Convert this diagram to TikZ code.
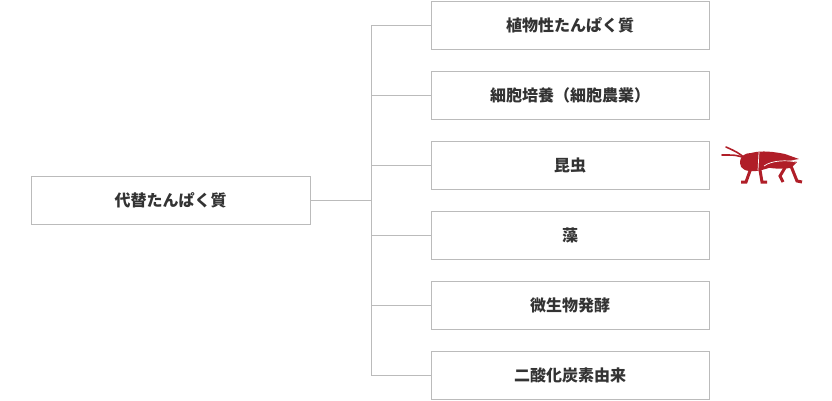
\documentclass[tikz,border=0pt]{standalone}
\usepackage{fontspec}
\newfontfamily\cjk{Noto Sans CJK JP}
\definecolor{tx}{HTML}{333333}
\definecolor{bd}{HTML}{BBBBBB}
\definecolor{cr}{HTML}{B01E28}
\begin{document}
\begin{tikzpicture}[x=1pt,y=-1pt,
  box/.style={draw=bd,line width=0.8pt,minimum width=278pt,minimum height=48pt,inner sep=0pt,font=\cjk\bfseries\fontsize{16pt}{18pt}\selectfont,text=tx},
  ln/.style={draw=bd,line width=0.8pt}]
\useasboundingbox (0,0) rectangle (832,400);
\node[box,minimum width=279pt] (root) at (170.5,200) {代替たんぱく質};
\foreach \n/\y/\t in {a/25/植物性たんぱく質,b/95/細胞培養（細胞農業）,c/165/昆虫,d/235/藻,e/305/微生物発酵,f/375/二酸化炭素由来}
  \node[box] (\n) at (570,\y) {\t};
\coordinate (j) at (371,200);
\coordinate (ta) at (371,25);
\coordinate (tf) at (371,375);
\draw[ln] (root.east) -- (j);
\draw[ln] (ta) -- (tf);
\foreach \n in {a,b,c,d,e,f} \draw[ln] (\n.west -| j) -- (\n.west);
% cricket
\begin{scope}[cr,fill=cr]
\draw[line width=1.6pt,line cap=round] (745,158) .. controls (737,152) .. (726,147);
\draw[line width=1.6pt,line cap=round] (745,158) .. controls (736,155) .. (722,155);
\fill (740,163) .. controls (740,156) and (745,153) .. (751,153)
  .. controls (762,150) and (775,152) .. (785,154)
  -- (799,159) -- (781,162)
  .. controls (775,166) and (765,170) .. (756,171)
  .. controls (746,172) and (740,169) .. (740,163) -- cycle;
\fill (764,166) .. controls (772,159) and (790,159) .. (797,162) -- (791,168) .. controls (780,169) and (770,169) .. (764,166) -- cycle;
\draw[line width=3pt] (751,168) -- (746,182) -- (741,182);
\draw[line width=3pt] (760,170) -- (762,182) -- (767,182);
\draw[line width=3pt] (786,166) -- (780,176) -- (783,182);
\draw[line width=3pt] (791,166) -- (797,181) -- (802,182);
\end{scope}
\draw[white,line width=0.7pt] (759,152) -- (758,170);
\draw[white,line width=0.7pt] (764,166) .. controls (772,160) and (788,160) .. (796,162);
\end{tikzpicture}
\end{document}
